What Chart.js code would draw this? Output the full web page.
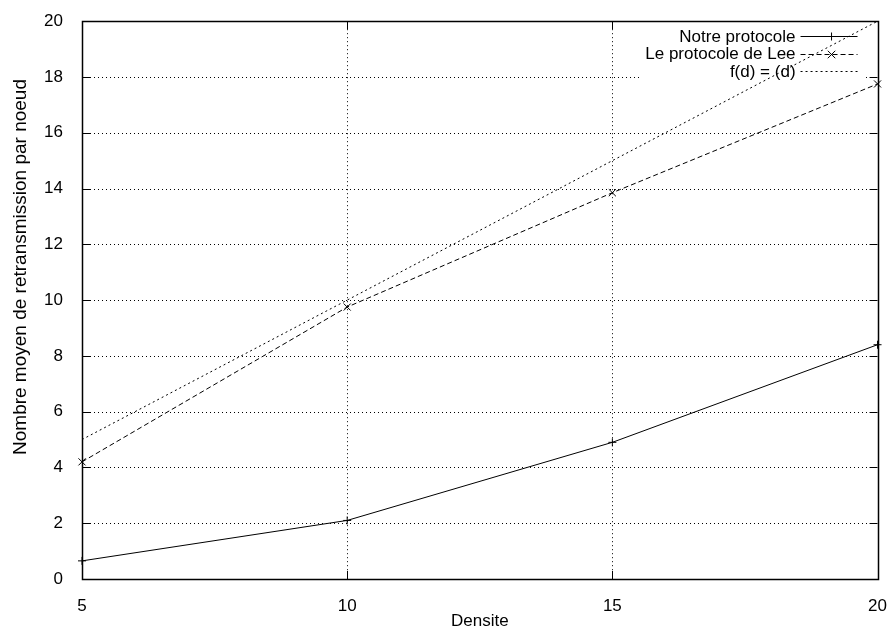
<!DOCTYPE html>
<html>
<head>
<meta charset="utf-8">
<script src="https://cdn.jsdelivr.net/npm/chart.js@4"></script>
<style>
  html, body { margin: 0; padding: 0; background: #fff; }
  #wrap { width: 896px; height: 633px; }
</style>
</head>
<body>
<div id="wrap"><canvas id="myChart" width="896" height="633"></canvas></div>
<script>
// values
const densite = [5, 10, 15, 20]
const notreProtocole = [0.65, 2.1, 4.9, 8.4]
const protocoleLee = [4.2, 9.75, 13.85, 17.75]
const fdX = [5, 20]          // f(d) = d
const fdY = [5, 20]
const xTicks = [5, 10, 15, 20]
const yTicks = [0, 2, 4, 6, 8, 10, 12, 14, 16, 18, 20]
const yTitle = "Nombre moyen de retransmission par noeud"

const toPoints = (xs, ys) => xs.map((v, i) => ({x: v, y: ys[i]}))

const FONT = '"Liberation Sans", Arial, Helvetica, sans-serif'
Chart.defaults.font.family = FONT
Chart.defaults.font.size = 17
Chart.defaults.color = "#000"

function drawMarker(ctx, style, cx, cy, r) {
    ctx.beginPath()
    if (style === "cross") {
        ctx.moveTo(cx - r, cy); ctx.lineTo(cx + r, cy)
        ctx.moveTo(cx, cy - r); ctx.lineTo(cx, cy + r)
    } else if (style === "crossRot") {
        const d = r * 0.75
        ctx.moveTo(cx - d, cy - d); ctx.lineTo(cx + d, cy + d)
        ctx.moveTo(cx - d, cy + d); ctx.lineTo(cx + d, cy - d)
    }
    ctx.stroke()
}

// gnuplot-like frame: dotted grid, opaque key box, inward ticks, border, key
const gnuplotFrame = {
    id: "gnuplotFrame",
    beforeDatasetsDraw(chart) {
        const {ctx, chartArea: a, scales: {x, y}} = chart
        ctx.save()
        ctx.strokeStyle = "#000"
        ctx.lineWidth = 1
        ctx.setLineDash([1, 3])
        ctx.beginPath()
        yTicks.forEach(v => {
            const py = Math.round(y.getPixelForValue(v)) + 0.5
            ctx.moveTo(a.left, py); ctx.lineTo(a.right, py)
        })
        xTicks.forEach(v => {
            const px = Math.round(x.getPixelForValue(v)) + 0.5
            ctx.moveTo(px, a.top); ctx.lineTo(px, a.bottom)
        })
        ctx.stroke()

        // key box hides the grid behind it
        ctx.font = "17px " + FONT
        const textRight = a.right - 82
        let wMax = 0
        chart.data.datasets.forEach(ds => { wMax = Math.max(wMax, ctx.measureText(ds.label).width) })
        ctx.fillStyle = "#fff"
        const bx = textRight - wMax - 6
        ctx.fillRect(bx, a.top + 4, a.right - 12 - bx, 62)

        ctx.setLineDash([])
        ctx.beginPath()
        yTicks.forEach(v => {
            const py = Math.round(y.getPixelForValue(v)) + 0.5
            ctx.moveTo(a.left, py); ctx.lineTo(a.left + 8, py)
            ctx.moveTo(a.right, py); ctx.lineTo(a.right - 8, py)
        })
        xTicks.forEach(v => {
            const px = Math.round(x.getPixelForValue(v)) + 0.5
            ctx.moveTo(px, a.bottom); ctx.lineTo(px, a.bottom - 8)
            ctx.moveTo(px, a.top); ctx.lineTo(px, a.top + 8)
        })
        ctx.stroke()
        ctx.lineWidth = 1.5
        ctx.strokeRect(Math.round(a.left) + 0.5, Math.round(a.top) + 0.5,
            Math.round(a.right - a.left), Math.round(a.bottom - a.top))

        // y axis title (gnuplot places it a bit above the middle)
        ctx.fillStyle = "#000"
        ctx.font = "19px " + FONT
        ctx.textAlign = "center"
        ctx.textBaseline = "middle"
        ctx.translate(21, 267)
        ctx.rotate(-Math.PI / 2)
        ctx.fillText(yTitle, 0, 0)
        ctx.restore()
    },
    afterDatasetsDraw(chart) {
        const {ctx, chartArea: a} = chart
        ctx.save()
        ctx.font = "17px " + FONT
        ctx.fillStyle = "#000"
        ctx.strokeStyle = "#000"
        ctx.lineWidth = 1
        ctx.textAlign = "right"
        ctx.textBaseline = "middle"
        chart.data.datasets.forEach((ds, i) => {
            const yy = a.top + 15 + i * 17.5
            ctx.fillText(ds.label, a.right - 82, yy + 1)
            ctx.setLineDash(ds.borderDash || [])
            ctx.beginPath()
            ctx.moveTo(a.right - 77, Math.round(yy) + 0.5)
            ctx.lineTo(a.right - 20, Math.round(yy) + 0.5)
            ctx.stroke()
            ctx.setLineDash([])
            if (ds.pointRadius > 0) drawMarker(ctx, ds.pointStyle, a.right - 46, Math.round(yy) + 0.5, ds.pointRadius)
        })
        ctx.restore()
    }
}

const ctx = document.getElementById("myChart")
const myChart = new Chart(ctx, {
    type: "line",
    data: {
        datasets: [
            {
                label: "Notre protocole",
                data: toPoints(densite, notreProtocole),
                borderColor: "#000",
                borderWidth: 1,
                pointStyle: "cross",
                pointRadius: 4,
                pointBorderColor: "#000",
                pointBorderWidth: 1,
                fill: false,
                clip: false,
            },
            {
                label: "Le protocole de Lee",
                data: toPoints(densite, protocoleLee),
                borderColor: "#000",
                borderWidth: 1,
                borderDash: [5, 3],
                pointStyle: "crossRot",
                pointRadius: 5,
                pointBorderColor: "#000",
                pointBorderWidth: 1,
                fill: false,
                clip: false,
            },
            {
                label: "f(d) = (d)",
                data: toPoints(fdX, fdY),
                borderColor: "#000",
                borderWidth: 1,
                borderDash: [2, 3],
                pointRadius: 0,
                fill: false,
            },
        ]
    },
    options: {
        responsive: false,
        animation: false,
        layout: { padding: { top: 19, right: 17, left: 0, bottom: 0 } },
        scales: {
            x: {
                type: "linear",
                min: 5,
                max: 20,
                afterBuildTicks: s => { s.ticks = xTicks.map(v => ({value: v})) },
                afterFit: s => { s.height = 54 },
                grid: { display: false },
                border: { display: false },
                ticks: { padding: 9, color: "#000", font: { size: 17 } },
                title: { display: true, text: "Densite", color: "#000", font: { size: 17 }, padding: { top: 1, bottom: 1 } },
            },
            y: {
                type: "linear",
                min: 0,
                max: 20,
                afterBuildTicks: s => { s.ticks = yTicks.map(v => ({value: v})) },
                afterFit: s => { s.width = 82 },
                grid: { display: false },
                border: { display: false },
                ticks: { padding: 11, color: "#000", font: { size: 17 } },
                title: { display: false },
            }
        },
        plugins: {
            legend: { display: false },
            tooltip: { enabled: false },
        }
    },
    plugins: [gnuplotFrame],
})
</script>
</body>
</html>
